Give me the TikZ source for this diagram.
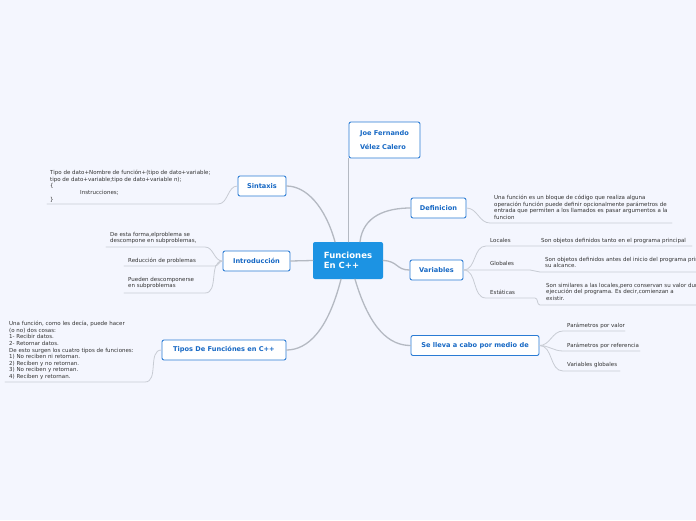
\documentclass[tikz,border=0pt]{standalone}
\usepackage{fontspec}
\setmainfont{DejaVu Sans}
\definecolor{paper}{HTML}{F4F6FE}
\definecolor{rootblue}{HTML}{1C93E3}
\definecolor{branchblue}{HTML}{2A7BD4}
\definecolor{branchtext}{HTML}{1668C4}
\definecolor{leaftext}{HTML}{333333}
\definecolor{trunkgray}{HTML}{B4B9C2}
\definecolor{twiggray}{HTML}{C8CCD4}
\begin{document}
\begin{tikzpicture}[x=1pt,y=-1pt,line cap=round,line join=round,
  root/.style={fill=rootblue,rounded corners=2pt,text=white,font=\bfseries\fontsize{8.5}{10.5}\selectfont,align=left,minimum width=70pt,minimum height=37pt,inner sep=0pt},
  branch/.style={draw=branchblue,line width=0.9pt,fill=white,rounded corners=2pt,text=branchtext,font=\bfseries\fontsize{6.6}{8}\selectfont,minimum height=20pt,inner sep=0pt},
  leaf/.style={anchor=north west,inner sep=0pt,text=leaftext,font=\fontsize{5.5}{6.6}\selectfont,align=left},
  trunk/.style={draw=trunkgray,line width=1.3pt},
  twig/.style={draw=twiggray,line width=0.8pt}]
  \clip (0,0) rectangle (696,520);
  \fill[paper] (0,0) rectangle (696,520);

  % main branches
  \node[root] (root) at (348,260.5) {Funciones\\En C++};
  \node[branch,minimum width=71pt,minimum height=36pt,align=left] (joe) at (384.5,140) {Joe Fernando\\[6pt]Vélez Calero};
  \node[branch,minimum width=55pt] (def) at (438.5,208) {Definicion};
  \node[branch,minimum width=53pt] (var) at (436.5,270) {Variables};
  \node[branch,minimum width=128pt] (sell) at (475,345.5) {Se lleva a cabo por medio de};
  \node[branch,minimum width=48pt] (sint) at (262,186) {Sintaxis};
  \node[branch,minimum width=67pt] (intro) at (256.5,261) {Introducción};
  \node[branch,minimum width=124pt] (tipos) at (224,350) {Tipos De Funciónes en C++};

  \draw[trunk] (root.north -| joe.south west) -- (joe.south west);
  \draw[trunk] ([xshift=12pt]root.north) .. controls (363,216) and (386,208) .. (def.west);
  \draw[trunk] (root.east) .. controls (398,261) and (396,270) .. (var.west);
  \draw[trunk] ([xshift=7pt]root.south) .. controls (370,330) and (390,345.5) .. (sell.west);
  \draw[trunk] ([xshift=-13pt]root.north) .. controls (325,206) and (306,186) .. (sint.east);
  \draw[trunk] (root.west) -- (intro.east);
  \draw[trunk] ([xshift=-7pt]root.south) .. controls (328,330) and (308,350) .. (tipos.east);

  % Sintaxis
  \node[leaf] (syn) at (50,170) {Tipo de dato+Nombre de función+(tipo de dato+variable;\\tipo de dato+variable;tipo de dato+variable n);\\\{\\\hspace*{30pt}Instrucciones;\\\}};
  \coordinate (syna) at (47,204);
  \coordinate (synb) at (218,204);
  \draw[twig] (sint.west) to[out=180,in=0] (synb) -- (syna);

  % Introduccion
  \node[leaf] (intA) at (110,232) {De esta forma,elproblema se\\descompone en subproblemas,};
  \node[leaf] (intB) at (128,258) {Reducción de problemas};
  \node[leaf] (intC) at (128,277) {Pueden descomponerse\\en subproblemas};
  \coordinate (intAa) at (106,247);
  \coordinate (intAb) at (205,247);
  \coordinate (intBa) at (124,266);
  \coordinate (intBb) at (215,266);
  \coordinate (intCa) at (124,293);
  \coordinate (intCb) at (205,293);
  \draw[twig] (intro.west) to[out=180,in=0] (intAb) -- (intAa);
  \draw[twig] (intro.west) to[out=180,in=0] (intBb) -- (intBa);
  \draw[twig] (intro.west) to[out=180,in=0] (intCb) -- (intCa);

  % Tipos
  \node[leaf] (tip) at (9,321) {Una función, como les decía, puede hacer\\(o no) dos cosas:\\1- Recibir datos.\\2- Retornar datos.\\De esto surgen los cuatro tipos de funciones:\\1) No reciben ni retornan.\\2) Reciben y no retornan.\\3) No reciben y retornan.\\4) Reciben y retornan.};
  \coordinate (tipa) at (5,382);
  \coordinate (tipb) at (145,382);
  \draw[twig] (tipos.west) to[out=180,in=0] (tipb) -- (tipa);

  % Definicion
  \node[leaf] (deftx) at (494,195) {Una función es un bloque de código que realiza alguna\\operación función puede definir opcionalmente parámetros de\\entrada que permiten a los llamados es pasar argumentos a la\\funcion};
  \coordinate (defa) at (490,223);
  \coordinate (defb) at (672,223);
  \draw[twig] (def.east) to[out=0,in=180] (defa) -- (defb);

  % Variables
  \node[leaf] (loc) at (490,238) {Locales};
  \node[leaf] (glo) at (490,261) {Globales};
  \node[leaf] (est) at (490,290) {Estáticas};
  \node[leaf] (locx) at (541,238) {Son objetos definidos tanto en el programa principal};
  \node[leaf] (glox) at (545,257) {Son objetos definidos antes del inicio del programa principal y\\su alcance.};
  \node[leaf] (estx) at (546,283) {Son similares a las locales,pero conservan su valor durante la\\ejecución del programa. Es decir,comienzan a\\existir.};
  \coordinate (loca) at (486,246);
  \coordinate (locb) at (525,246);
  \coordinate (globa) at (486,270);
  \coordinate (globb) at (530,270);
  \coordinate (esta) at (486,298);
  \coordinate (estb) at (535,298);
  \coordinate (locxa) at (537,246);
  \coordinate (locxb) at (692,246);
  \coordinate (gloxa) at (540,272);
  \coordinate (gloxb) at (700,272);
  \coordinate (estxa) at (540,305);
  \coordinate (estxb) at (700,305);
  \draw[twig] (var.east) to[out=0,in=180] (loca) -- (locb) to[out=0,in=180] (locxa) -- (locxb);
  \draw[twig] (var.east) to[out=0,in=180] (globa) -- (globb) to[out=0,in=180] (gloxa) -- (gloxb);
  \draw[twig] (var.east) to[out=0,in=180] (esta) -- (estb) to[out=0,in=180] (estxa) -- (estxb);

  % Se lleva a cabo
  \node[leaf] (pval) at (567,323) {Parámetros por valor};
  \node[leaf] (pref) at (567,343) {Parámetros por referencia};
  \node[leaf] (vglo) at (567,362) {Variables globales};
  \coordinate (pvala) at (563,331);
  \coordinate (pvalb) at (625,331);
  \coordinate (prefa) at (563,351);
  \coordinate (prefb) at (640,351);
  \coordinate (vgloa) at (563,371);
  \coordinate (vglob) at (620,371);
  \draw[twig] (sell.east) to[out=0,in=180] (pvala) -- (pvalb);
  \draw[twig] (sell.east) to[out=0,in=180] (prefa) -- (prefb);
  \draw[twig] (sell.east) to[out=0,in=180] (vgloa) -- (vglob);
\end{tikzpicture}
\end{document}
